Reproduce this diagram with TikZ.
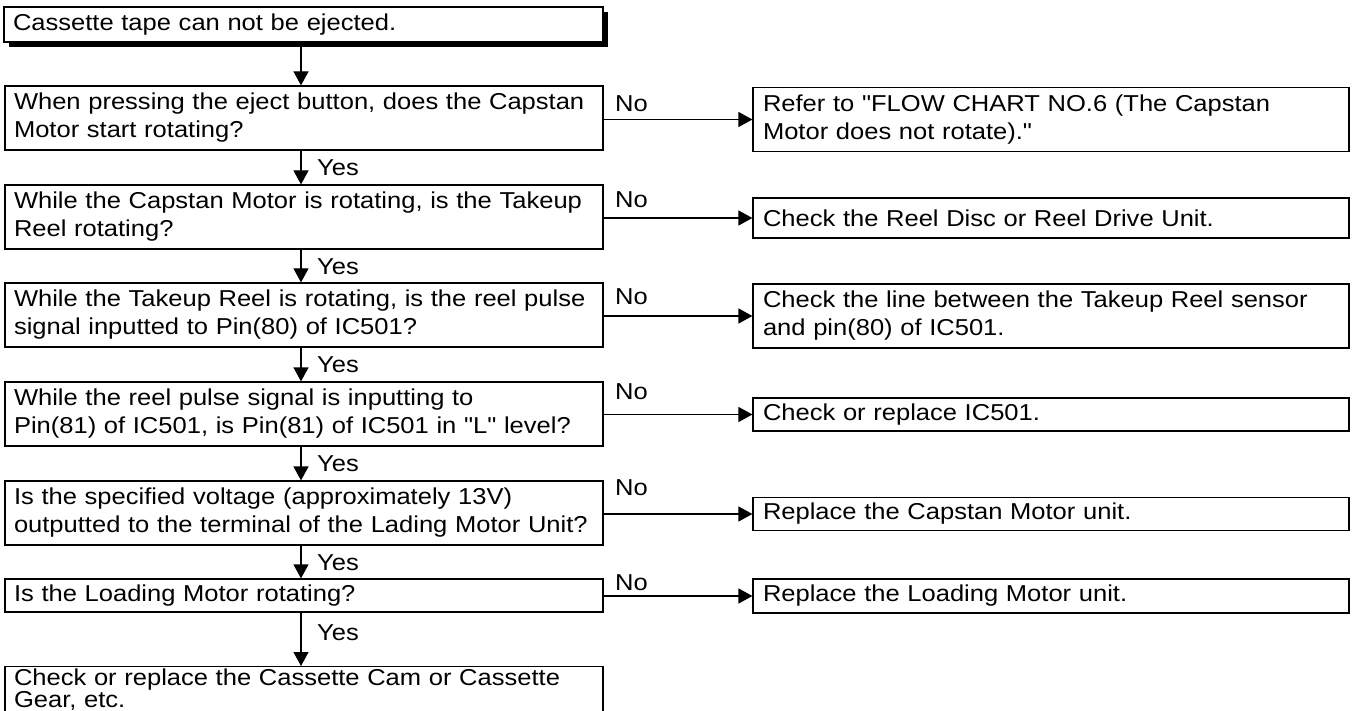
\documentclass[tikz,border=0pt]{standalone}
\usepackage{fontspec}
\newfontfamily\arialx{Liberation Sans}[FakeStretch=1.11]
\usetikzlibrary{arrows.meta,shadows}
\newcommand\fsz{\arialx\fontsize{23pt}{28pt}\selectfont}
\newcommand\fszb{\arialx\fontsize{23pt}{22pt}\selectfont}
\newcommand\tline[1]{\mbox{#1}}
\tikzset{
  box/.style={draw, line width=1.2pt, fill=white, inner xsep=9pt, inner ysep=0pt, align=left, font=\fsz},
  qbox/.style={box, text width=580pt},
  rbox/.style={box, inner xsep=10pt, text width=576pt},
  lbl/.style={inner sep=0pt, font=\fsz, anchor=west},
  arr/.style={line width=1.2pt, -{Triangle[length=14pt,width=15pt]}},
}
\begin{document}
\begin{tikzpicture}[x=1pt,y=-1pt]
\clip (0,0) rectangle (1352,711);
\fill[white] (0,0) rectangle (1352,711);
\coordinate (ax) at (301,0);
% top box
\node[box, text width=581pt, minimum height=35pt, drop shadow={shadow xshift=5pt, shadow yshift=-5pt, fill=black, opacity=1}] (top) at (303.5,24.5) {Cassette tape can not be ejected.};
% question boxes
\node[qbox, minimum height=64pt] (q1) at (304,118) {\tline{When pressing the eject button, does the Capstan}\\\tline{Motor start rotating?}};
\node[qbox, minimum height=64pt] (q2) at (304,217) {\tline{While the Capstan Motor is rotating, is the Takeup}\\\tline{Reel rotating?}};
\node[qbox, minimum height=64pt] (q3) at (304,315) {\tline{While the Takeup Reel is rotating, is the reel pulse}\\\tline{signal inputted to Pin(80) of IC501?}};
\node[qbox, minimum height=64pt] (q4) at (304,414) {\tline{While the reel pulse signal is inputting to}\\\tline{Pin(81) of IC501, is Pin(81) of IC501 in "L" level?}};
\node[qbox, minimum height=64pt] (q5) at (304,513) {\tline{Is the specified voltage (approximately 13V)}\\\tline{outputted to the terminal of the Lading Motor Unit?}};
\node[qbox, minimum height=33pt] (q6) at (304,595.5) {Is the Loading Motor rotating?};
\node[qbox, font=\fszb, minimum height=46pt, anchor=north] (q7) at (304,666) {\tline{Check or replace the Cassette Cam or Cassette}\\\tline{Gear, etc.}};
% result boxes
\node[rbox, minimum height=64pt] (r1) at (1051,119.5) {\tline{Refer to "FLOW CHART NO.6 (The Capstan}\\\tline{Motor does not rotate)."}};
\node[rbox, minimum height=40pt] (r2) at (1051,218) {Check the Reel Disc or Reel Drive Unit.};
\node[rbox, minimum height=64pt] (r3) at (1051,316) {\tline{Check the line between the Takeup Reel sensor}\\\tline{and pin(80) of IC501.}};
\node[rbox, minimum height=33pt] (r4) at (1051,414.5) {Check or replace IC501.};
\node[rbox, minimum height=33pt] (r5) at (1051,514) {Replace the Capstan Motor unit.};
\node[rbox, minimum height=34pt] (r6) at (1051,596) {Replace the Loading Motor unit.};
% vertical connectors
\draw[arr] (top.south -| ax) -- (q1.north -| ax);
\draw[arr] (q1.south -| ax) -- (q2.north -| ax);
\draw[arr] (q2.south -| ax) -- (q3.north -| ax);
\draw[arr] (q3.south -| ax) -- (q4.north -| ax);
\draw[arr] (q4.south -| ax) -- (q5.north -| ax);
\draw[arr] (q5.south -| ax) -- (q6.north -| ax);
\draw[arr] (q6.south -| ax) -- (q7.north -| ax);
% horizontal connectors
\draw[arr] (r1.west -| q1.east) -- (r1.west);
\draw[arr] (r2.west -| q2.east) -- (r2.west);
\draw[arr] (r3.west -| q3.east) -- (r3.west);
\draw[arr] (r4.west -| q4.east) -- (r4.west);
\draw[arr] (r5.west -| q5.east) -- (r5.west);
\draw[arr] (r6.west -| q6.east) -- (r6.west);
% labels
\node[lbl] (y1) at (317,168) {Yes};
\node[lbl] (y2) at (317,266.5) {Yes};
\node[lbl] (y3) at (317,365) {Yes};
\node[lbl] (y4) at (317,464) {Yes};
\node[lbl] (y5) at (317,562.5) {Yes};
\node[lbl] (y6) at (317,633) {Yes};
\node[lbl] (n1) at (615,104) {No};
\node[lbl] (n2) at (615,200) {No};
\node[lbl] (n3) at (615,297) {No};
\node[lbl] (n4) at (615,392) {No};
\node[lbl] (n5) at (615,488) {No};
\node[lbl] (n6) at (615,583) {No};
\end{tikzpicture}
\end{document}
